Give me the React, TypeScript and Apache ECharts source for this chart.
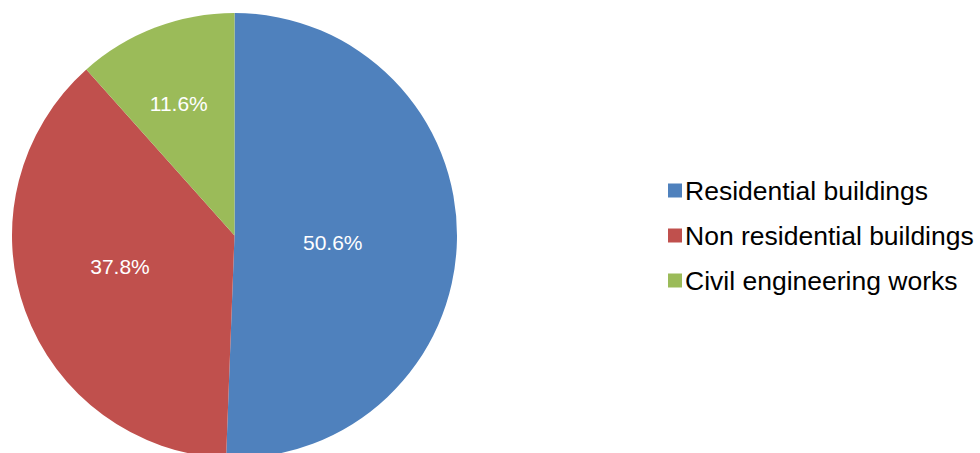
import React, { useEffect, useRef } from "react";
import * as echarts from "echarts";

const categories = ["Residential buildings", "Non residential buildings", "Civil engineering works"];
const values = [50.6, 37.8, 11.6];
const colors = ["#4F81BD", "#C0504D", "#9BBB59"];
const labelOffsets: [number, number][] = [[-16, 5], [-7, -8], [-15, -25]];

const FONT = "'Liberation Sans', Arial, sans-serif";

export default function App() {
  const ref = useRef<HTMLDivElement>(null);
  useEffect(() => {
    if (!ref.current) return;
    const chart = echarts.init(ref.current, null, { renderer: "svg" });
    chart.setOption({
      animation: false,
      backgroundColor: "#ffffff",
      legend: {
        orient: "vertical",
        left: 663,
        top: 172,
        itemWidth: 14,
        itemHeight: 14,
        itemGap: 18,
        icon: "rect",
        textStyle: { fontFamily: FONT, fontSize: 26.5, color: "#000000", padding: [0, 0, 0, -2] },
        data: categories,
      },
      series: [
        {
          type: "pie",
          center: [234.5, 235.5],
          radius: 222.5,
          startAngle: 90,
          clockwise: true,
          avoidLabelOverlap: false,
          label: {
            show: true,
            position: "inside",
            color: "#ffffff",
            fontFamily: FONT,
            fontSize: 21,
            formatter: (p: any) => p.value.toFixed(1) + "%",
          },
          labelLine: { show: false },
          itemStyle: { borderWidth: 0 },
          emphasis: { disabled: true },
          data: categories.map((name, i) => ({
            name,
            value: values[i],
            itemStyle: { color: colors[i] },
            label: { offset: labelOffsets[i] },
          })),
        },
      ],
    });
    return () => chart.dispose();
  }, []);
  return (
    <div
      ref={ref}
      style={{ position: "absolute", left: 0, top: 0, width: 980, height: 453 }}
    />
  );
}
